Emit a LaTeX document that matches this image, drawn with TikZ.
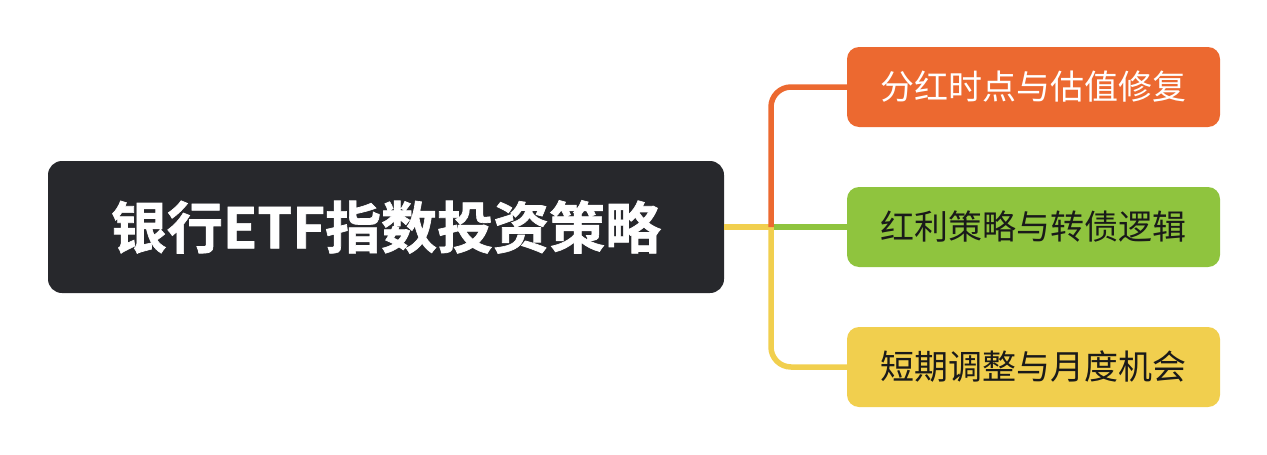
\documentclass[tikz,border=0pt]{standalone}
\usepackage{fontspec}
\usepackage{tikz}
\usetikzlibrary{positioning}
\newfontfamily\cjk{Noto Sans CJK SC}
\newfontfamily\cjkbf[FakeBold=1.2]{Noto Sans CJK SC Bold}
\definecolor{rootgray}{HTML}{27282C}
\definecolor{branchorange}{HTML}{EC6930}
\definecolor{branchgreen}{HTML}{8FC43E}
\definecolor{branchyellow}{HTML}{F1CF4E}
\definecolor{leaftext}{HTML}{1A1A1A}

\begin{document}
\begin{tikzpicture}[x=1pt, y=-1pt,
	leaf/.style={rounded corners=12pt, minimum width=373pt, minimum height=80pt,
		inner sep=0pt, font=\cjk\fontsize{34}{40}\selectfont, text=leaftext},
	branch/.style={line width=5.5pt}
]
			\useasboundingbox (0,0) rectangle (1267,455);

			\node[%
				fill=rootgray, rounded corners=14pt,
				minimum width=676pt, minimum height=132pt, inner sep=0pt,
				text=white, font=\cjkbf\fontsize{56}{60}\selectfont
			] (root) at (386, 227) {银行ETF指数投资策略};

			\node[leaf, fill=branchorange, text=white] (dividend) at (1033.5, 87) {分红时点与估值修复};
			\node[leaf, fill=branchgreen] (bond) at (1033.5, 227) {红利策略与转债逻辑};
			\node[leaf, fill=branchyellow] (monthly) at (1033.5, 367) {短期调整与月度机会};

			\coordinate (fork) at (771, 227);

			\draw[branch, branchyellow] (root.east) -- ([xshift=2.75pt]fork);
			\draw[branch, branchyellow, rounded corners=20pt] (fork) |- (monthly.west);
			\draw[branch, branchorange, rounded corners=20pt] (fork) |- (dividend.west);
			\draw[branch, branchgreen] ([xshift=2.75pt]fork) -- (bond.west);
		\end{tikzpicture}
\end{document}
